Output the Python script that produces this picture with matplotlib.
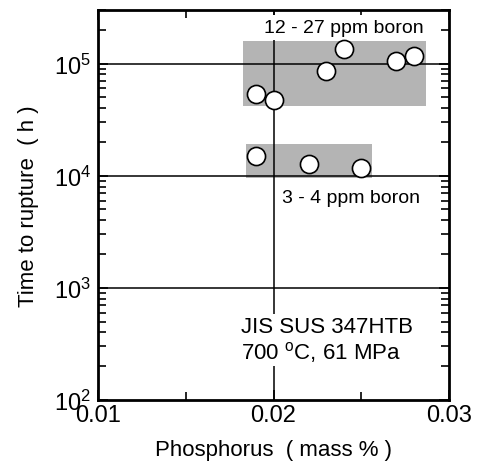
import matplotlib
matplotlib.use("Agg")
import matplotlib.pyplot as plt
from matplotlib.patches import Rectangle
from matplotlib.ticker import FixedLocator, LogLocator, NullFormatter

plt.rcParams['font.family'] = ['Liberation Sans', 'DejaVu Sans']
plt.rcParams['mathtext.fontset'] = 'custom'
plt.rcParams['mathtext.rm'] = 'Liberation Sans'
plt.rcParams['mathtext.it'] = 'Liberation Sans:italic'
plt.rcParams['mathtext.bf'] = 'Liberation Sans:bold'

# 12 - 27 ppm boron
p_high = [0.0190, 0.0200, 0.0230, 0.0240, 0.0270, 0.0280]
t_high = [53700, 46900, 85400, 135000, 105000, 116000]
# 3 - 4 ppm boron
p_low = [0.0190, 0.0220, 0.0250]
t_low = [14970, 12800, 11800]

# shaded ranges (x0, x1, y0, y1)
box_high = (0.01828, 0.02869, 41700, 158000)
box_low = (0.01842, 0.02560, 9500, 19000)

fig = plt.figure(figsize=(4.82, 4.64), dpi=100)
ax = fig.add_axes([98/482, 1 - 401/464, 351/482, 390/464])

ax.set_xlim(0.01, 0.03)
ax.set_yscale('log')
ax.set_ylim(100, 3e5)

for b in (box_high, box_low):
    ax.add_patch(Rectangle((b[0], b[2]), b[1]-b[0], b[3]-b[2],
                           facecolor='#b4b4b4', edgecolor='none', zorder=1))

# grid lines
for yv in [1e3, 1e4, 1e5]:
    ax.axhline(yv, color='black', lw=1.1, zorder=2)
ax.axvline(0.02, color='black', lw=1.1, zorder=2)

ax.scatter(p_high, t_high, s=170, facecolor='white', edgecolor='black', lw=1.2, zorder=4)
ax.scatter(p_low, t_low, s=170, facecolor='white', edgecolor='black', lw=1.2, zorder=4)

ax.text(0.0240, 2.08e5, '12 - 27 ppm boron', fontsize=14, ha='center', va='center',
        bbox=dict(facecolor='white', edgecolor='none', pad=3), zorder=2.2)
ax.text(0.0205, 6.4e3, '3 - 4 ppm boron', fontsize=14, ha='left', va='center', zorder=3)
ax.text(0.01813, 345, 'JIS SUS 347HTB\n700 $^{\\mathrm{o}}$C, 61 MPa', fontsize=16,
        ha='left', va='center', linespacing=1.1,
        bbox=dict(facecolor='white', edgecolor='none', pad=2), zorder=3)

ax.xaxis.set_major_locator(FixedLocator([0.01, 0.02, 0.03]))
ax.xaxis.set_minor_locator(FixedLocator([0.015, 0.025]))
ax.set_xticklabels(['0.01', '0.02', '0.03'])
ax.yaxis.set_major_locator(LogLocator(base=10, numticks=10))
ax.yaxis.set_minor_locator(LogLocator(base=10, subs=range(2, 10), numticks=10))
ax.yaxis.set_minor_formatter(NullFormatter())

ax.tick_params(which='both', direction='in', top=True, right=True, labelsize=17, width=1.2)
ax.tick_params(which='major', length=7)
ax.tick_params(which='minor', length=6)
ax.tick_params(axis='x', pad=3)
ax.tick_params(axis='y', pad=5)

for s in ax.spines.values():
    s.set_linewidth(2)

ax.set_xlabel('Phosphorus  ( mass % )', fontsize=16, labelpad=9)
ax.set_ylabel('Time to rupture  ( h )', fontsize=16, labelpad=11)

fig.savefig('out.png', dpi=100)
